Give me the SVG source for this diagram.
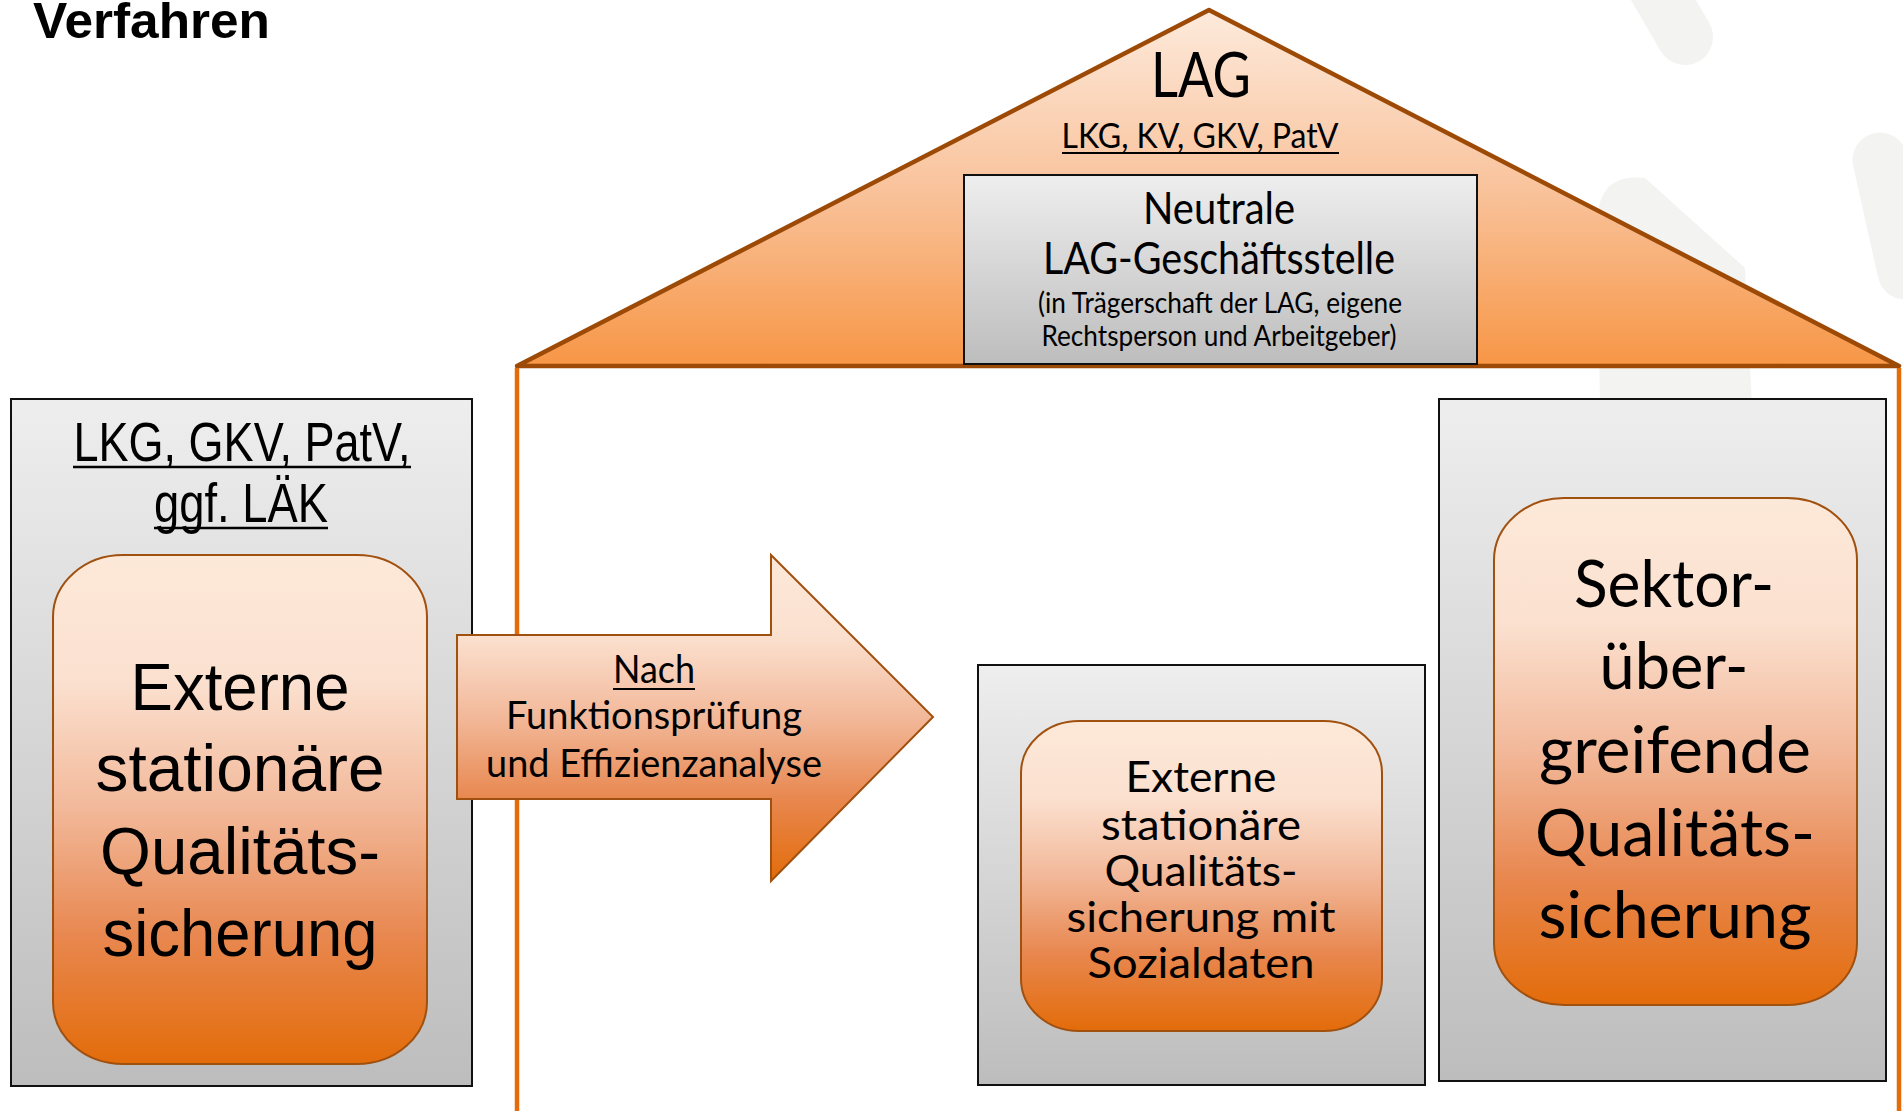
<svg xmlns="http://www.w3.org/2000/svg" width="1903" height="1111" viewBox="0 0 1903 1111">
<defs>
<linearGradient id="gRoof" x1="0" y1="0" x2="0" y2="1">
<stop offset="0" stop-color="#fdeadc"/><stop offset="0.5" stop-color="#f9c39c"/><stop offset="1" stop-color="#f79646"/>
</linearGradient>
<linearGradient id="gGrey" x1="0" y1="0" x2="0" y2="1">
<stop offset="0" stop-color="#eeeeee"/><stop offset="1" stop-color="#bdbdbd"/>
</linearGradient>
<linearGradient id="gOr" x1="0" y1="0" x2="0" y2="1">
<stop offset="0" stop-color="#fde9d9"/><stop offset="0.25" stop-color="#fbe0cf"/><stop offset="0.5" stop-color="#f2b899"/><stop offset="0.75" stop-color="#e8874f"/><stop offset="1" stop-color="#e36c0a"/>
</linearGradient>
<style>
.grey{fill:url(#gGrey);stroke:#111;stroke-width:2}
.inner{fill:url(#gOr);stroke:#a0500f;stroke-width:2}
.wm{stroke:#f3f3f2;stroke-linecap:round;fill:none}
.t{font-family:Lato,"Liberation Sans",sans-serif;fill:#000;text-anchor:middle}
.w{font-family:"Liberation Sans",Arial,sans-serif;fill:#000;text-anchor:middle}
.ul{stroke:#000;fill:none}
.post{stroke:#e46c0a;stroke-width:4.5;fill:none}
</style>
</defs>
<rect width="1903" height="1111" fill="#ffffff"/>
<g id="watermark">
<line class="wm" x1="1640" y1="-40" x2="1685" y2="37" stroke-width="56"/>
<line class="wm" x1="1880" y1="160" x2="1905" y2="272" stroke-width="55"/>
<path d="M1597,225 Q1597,172 1645,178 L1745,268 L1752,405 L1600,405 Z" fill="#f3f3f2"/>
</g>
<text id="title" x="33" y="38" style="font-family:'Liberation Sans',Arial,sans-serif;font-weight:bold;font-size:50px" textLength="237" lengthAdjust="spacingAndGlyphs">Verfahren</text>
<g id="house">
<polygon points="1209,10 1899,366 517,366" fill="url(#gRoof)" stroke="#9c4a06" stroke-width="4.5" stroke-linejoin="round"/>
<line class="post" x1="517" y1="368" x2="517" y2="1111"/>
<line class="post" x1="1899" y1="368" x2="1899" y2="1111"/>
<text class="t" x="1201" y="97" font-size="62" textLength="100" lengthAdjust="spacingAndGlyphs">LAG</text>
<text class="t" x="1200" y="148" font-size="35" textLength="277" lengthAdjust="spacingAndGlyphs">LKG, KV, GKV, PatV</text>
<line class="ul" x1="1062" y1="153" x2="1339" y2="153" stroke-width="2"/>
</g>
<g id="geschaeftsstelle">
<rect class="grey" x="964" y="175" width="513" height="189"/>
<text class="t" x="1219" y="224" font-size="44" textLength="152" lengthAdjust="spacingAndGlyphs">Neutrale</text>
<text class="t" x="1219" y="274" font-size="44" textLength="352" lengthAdjust="spacingAndGlyphs">LAG-Geschäftsstelle</text>
<text class="t" x="1220" y="313" font-size="28" textLength="364" lengthAdjust="spacingAndGlyphs">(in Trägerschaft der LAG, eigene</text>
<text class="t" x="1219" y="346" font-size="28" textLength="355" lengthAdjust="spacingAndGlyphs">Rechtsperson und Arbeitgeber)</text>
</g>
<g id="links">
<rect class="grey" x="11" y="399" width="461" height="687"/>
<text class="w" x="242" y="461" font-size="56" textLength="337" lengthAdjust="spacingAndGlyphs">LKG, GKV, PatV,</text>
<line class="ul" x1="73" y1="467" x2="411" y2="467" stroke-width="2.5"/>
<text class="w" x="241" y="522" font-size="56" textLength="174" lengthAdjust="spacingAndGlyphs">ggf. LÄK</text>
<line class="ul" x1="154" y1="528" x2="328" y2="528" stroke-width="2.5"/>
<rect class="inner" x="53" y="555" width="374" height="509" rx="70" ry="62"/>
<text class="w" x="240" y="710" font-size="67" textLength="219" lengthAdjust="spacingAndGlyphs">Externe</text>
<text class="w" x="240" y="791" font-size="67" textLength="289" lengthAdjust="spacingAndGlyphs">stationäre</text>
<text class="w" x="240" y="874" font-size="67" textLength="280" lengthAdjust="spacingAndGlyphs">Qualitäts-</text>
<text class="w" x="240" y="956" font-size="67" textLength="275" lengthAdjust="spacingAndGlyphs">sicherung</text>
</g>
<g id="connectors">
<g id="pfeil">
<polygon points="457,635 771,635 771,555 933,717 771,881 771,799 457,799" fill="url(#gOr)" stroke="#a0500f" stroke-width="2"/>
<text class="t" x="654" y="683" font-size="38" textLength="82" lengthAdjust="spacingAndGlyphs">Nach</text>
<line class="ul" x1="613" y1="689" x2="695" y2="689" stroke-width="2"/>
<text class="t" x="654" y="729" font-size="38" textLength="296" lengthAdjust="spacingAndGlyphs">Funktionsprüfung</text>
<text class="t" x="654" y="777" font-size="38" textLength="336" lengthAdjust="spacingAndGlyphs">und Effizienzanalyse</text>
</g>
</g>
<g id="mitte">
<rect class="grey" x="978" y="665" width="447" height="420"/>
<rect class="inner" x="1021" y="721" width="361" height="310" rx="58" ry="52"/>
<text class="t" x="1201" y="792" font-size="42" textLength="151" lengthAdjust="spacingAndGlyphs">Externe</text>
<text class="t" x="1201" y="840" font-size="42" textLength="200" lengthAdjust="spacingAndGlyphs">stationäre</text>
<text class="t" x="1201" y="886" font-size="42" textLength="193" lengthAdjust="spacingAndGlyphs">Qualitäts-</text>
<text class="t" x="1201" y="932" font-size="42" textLength="269" lengthAdjust="spacingAndGlyphs">sicherung mit</text>
<text class="t" x="1201" y="978" font-size="42" textLength="227" lengthAdjust="spacingAndGlyphs">Sozialdaten</text>
</g>
<g id="rechts">
<rect class="grey" x="1439" y="399" width="447" height="682"/>
<rect class="inner" x="1494" y="498" width="363" height="507" rx="70" ry="62"/>
<text class="t" x="1674" y="607" font-size="66" textLength="200" lengthAdjust="spacingAndGlyphs">Sektor-</text>
<text class="t" x="1674" y="689" font-size="66" textLength="149" lengthAdjust="spacingAndGlyphs">über-</text>
<text class="t" x="1675" y="773" font-size="66" textLength="272" lengthAdjust="spacingAndGlyphs">greifende</text>
<text class="t" x="1675" y="856" font-size="66" textLength="280" lengthAdjust="spacingAndGlyphs">Qualitäts-</text>
<text class="t" x="1675" y="938" font-size="66" textLength="273" lengthAdjust="spacingAndGlyphs">sicherung</text>
</g>
</svg>
